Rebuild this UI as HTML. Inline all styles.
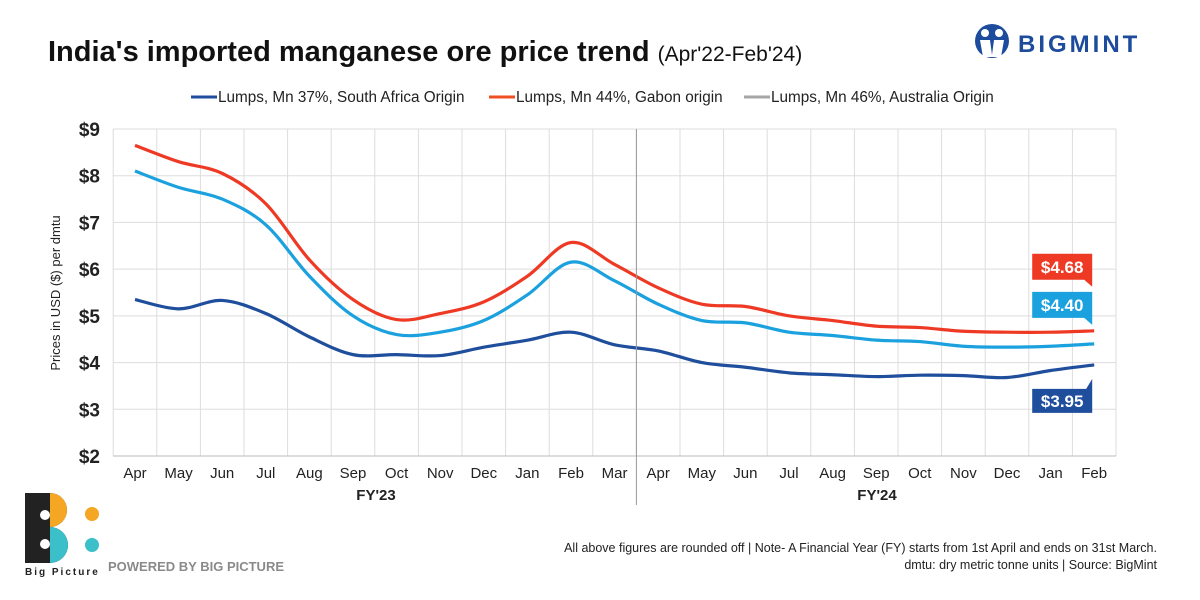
<!DOCTYPE html>
<html><head><meta charset="utf-8"><style>
body{margin:0;width:1200px;height:600px;background:#fff;font-family:"Liberation Sans",sans-serif;overflow:hidden}
</style></head><body>
<svg width="1200" height="600" style="position:absolute;left:0;top:0">
<text x="48" y="61" font-size="29" font-weight="bold" fill="#111">India's imported manganese ore price trend <tspan font-size="21" font-weight="normal">(Apr'22-Feb'24)</tspan></text>
<g>
<circle cx="992" cy="41" r="17" fill="#1d4c9c"/>
<circle cx="985" cy="33" r="4" fill="#fff"/><circle cx="999" cy="33" r="4" fill="#fff"/>
<path d="M980 40 L990 40 L992 55 L994 40 L1004 40 L1001 57 L983 57Z" fill="#fff"/>
<text x="1018" y="52" font-size="24" font-weight="bold" fill="#1d4c9c" letter-spacing="3">BIGMINT</text>
</g>
<g font-size="15.3" fill="#222">
<g><line x1="191" y1="97" x2="217" y2="97" stroke="#1f4e9c" stroke-width="3"/><text x="218" y="102">Lumps, Mn 37%, South Africa Origin</text></g>
<g><line x1="489" y1="97" x2="515" y2="97" stroke="#f04e23" stroke-width="3"/><text x="516" y="102">Lumps, Mn 44%, Gabon origin</text></g>
<g><line x1="744" y1="97" x2="770" y2="97" stroke="#a6a6a6" stroke-width="3"/><text x="771" y="102">Lumps, Mn 46%, Australia Origin</text></g>
</g>
<g id="grid"></g>
<g id="series"></g>
<g id="axes"></g>
<text transform="translate(60,293) rotate(-90)" text-anchor="middle" font-size="13" fill="#222">Prices in USD ($) per dmtu</text>
<text x="376" y="500" text-anchor="middle" font-size="15" font-weight="bold" fill="#222">FY'23</text>
<text x="877" y="500" text-anchor="middle" font-size="15" font-weight="bold" fill="#222">FY'24</text>
<g>
<path d="M25 493 H50 A17 17 0 0 1 50 527 A18 18 0 0 1 50 563 H25Z" fill="#222"/>
<path d="M50 493 A17 17 0 0 1 50 527 Z" fill="#f5a623"/>
<path d="M50 527 A18 18 0 0 1 50 563 Z" fill="#3bbfc9"/>
<circle cx="45" cy="515" r="5" fill="#fff"/><circle cx="45" cy="544" r="5" fill="#fff"/>
<circle cx="92" cy="514" r="7" fill="#f5a623"/><circle cx="92" cy="545" r="7" fill="#3bbfc9"/>
<text x="25" y="575" font-size="10" font-weight="bold" fill="#222" letter-spacing="2">Big Picture</text>
<text x="108" y="571" font-size="13" font-weight="bold" fill="#8a8a8a">POWERED BY BIG PICTURE</text>
</g>
<text x="1157" y="552" text-anchor="end" font-size="12.5" fill="#222">All above figures are rounded off | Note- A Financial Year (FY) starts from 1st April and ends on 31st March.</text>
<text x="1157" y="569" text-anchor="end" font-size="12.5" fill="#222">dmtu: dry metric tonne units | Source: BigMint</text>
</svg>
<script>
const months=["Apr","May","Jun","Jul","Aug","Sep","Oct","Nov","Dec","Jan","Feb","Mar","Apr","May","Jun","Jul","Aug","Sep","Oct","Nov","Dec","Jan","Feb"];
const yTicks=[2,3,4,5,6,7,8,9];
const southAfrica=[5.35,5.15,5.33,5.05,4.55,4.17,4.17,4.15,4.33,4.48,4.65,4.38,4.25,4.0,3.9,3.78,3.74,3.7,3.73,3.72,3.68,3.83,3.95];
const australia=[8.1,7.75,7.5,6.95,5.85,5.0,4.6,4.65,4.9,5.45,6.15,5.75,5.25,4.9,4.85,4.65,4.58,4.48,4.45,4.35,4.33,4.35,4.40];
const gabon=[8.65,8.3,8.05,7.4,6.2,5.35,4.92,5.05,5.3,5.85,6.57,6.1,5.6,5.25,5.2,5.0,4.9,4.78,4.75,4.67,4.65,4.65,4.68];
const NS="http://www.w3.org/2000/svg";
const L=113.2,W=43.6,T=129,B=456;
const x=i=>L+W*(i+0.5);
const y=v=>B-(v-2)/7*(B-T);
function mk(tag,attrs,parent){const e=document.createElementNS(NS,tag);for(const k in attrs)e.setAttribute(k,attrs[k]);document.getElementById(parent).appendChild(e);return e;}
for(let i=0;i<=months.length;i++){const g=mk("line",{x1:L+W*i,x2:L+W*i,y1:T,y2:B,stroke:"#ddd","stroke-width":1},"grid");

}
yTicks.forEach(t=>{const g=mk("line",{x1:L,x2:L+W*months.length,y1:y(t),y2:y(t),stroke:t==2?"#bbb":"#ddd","stroke-width":1},"grid");


const tx=mk("text",{x:100,y:y(t)+7,"text-anchor":"end","font-size":19,"font-weight":"bold",fill:"#222"},"axes");tx.textContent="$"+t;

});
const sep=mk("line",{x1:L+W*12,x2:L+W*12,y1:T,y2:505,stroke:"#999","stroke-width":1},"axes");


months.forEach((m,i)=>{const tx=mk("text",{x:x(i),y:478,"text-anchor":"middle","font-size":15,fill:"#222"},"axes");tx.textContent=m;

});
function path(d){const p=d.map((v,i)=>[x(i),y(v)]);let s=`M${p[0][0]},${p[0][1]}`;
for(let i=0;i<p.length-1;i++){const p0=p[i-1]||p[i],p1=p[i],p2=p[i+1],p3=p[i+2]||p2;
s+=` C${p1[0]+(p2[0]-p0[0])/6},${p1[1]+(p2[1]-p0[1])/6} ${p2[0]-(p3[0]-p1[0])/6},${p2[1]-(p3[1]-p1[1])/6} ${p2[0]},${p2[1]}`;}return s;}
[[gabon,"#ee3a24","line-gabon"],[australia,"#1ba1de","line-australia"],[southAfrica,"#1f4e9c","line-south-africa"]].forEach(([d,c,n])=>{
const p=mk("path",{d:path(d),fill:"none",stroke:c,"stroke-width":3.2},"series");

});
function callout(v,c,n,up,off){const last=months.length-1,px=x(last);let by=up?y(v)+off:y(v)-off;
const g=mk("g",{},"series");
const bx=px-62;
const pts=up?`${bx},${by} ${px-8},${by} ${px-2},${by-10} ${px-2},${by+24} ${bx},${by+24}`:`${bx},${by-26} ${px-2},${by-26} ${px-2},${by+7} ${px-10},${by} ${bx},${by}`;
const e=document.createElementNS(NS,"polygon");e.setAttribute("points",pts);e.setAttribute("fill",c);g.appendChild(e);
const t=document.createElementNS(NS,"text");t.setAttribute("x",bx+30);t.setAttribute("y",up?by+18:by-7);t.setAttribute("text-anchor","middle");t.setAttribute("font-size",17);t.setAttribute("font-weight","bold");t.setAttribute("fill","#fff");t.textContent="$"+v.toFixed(2);g.appendChild(t);}
callout(gabon[gabon.length-1],"#ee3a24","label-gabon-last",false,51);
callout(australia[australia.length-1],"#1ba1de","label-australia-last",false,26);
callout(southAfrica[southAfrica.length-1],"#1f4e9c","label-south-africa-last",true,24);
</script>
</body></html>
